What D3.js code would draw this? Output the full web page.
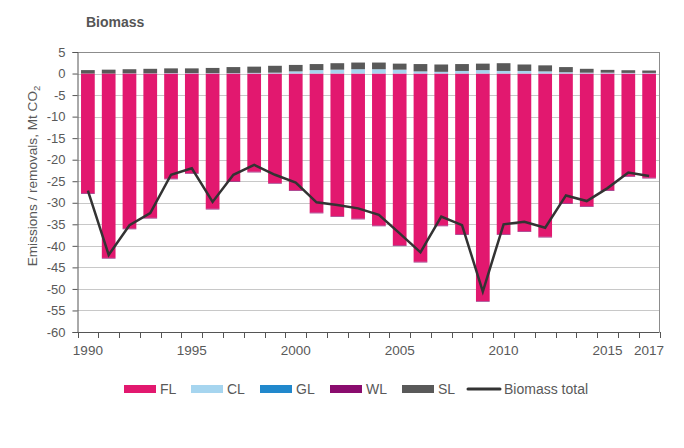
<!DOCTYPE html>
<html>
<head>
<meta charset="utf-8">
<script src="https://cdn.jsdelivr.net/npm/d3@7"></script>
<style>
  html, body { margin: 0; padding: 0; background: #fff; }
  svg { display: block; font-family: "Liberation Sans", Arial, sans-serif; }
</style>
</head>
<body>
<svg id="chart" width="684" height="448"></svg>
<script>
const years = [1990,1991,1992,1993,1994,1995,1996,1997,1998,1999,2000,2001,2002,2003,2004,2005,2006,2007,2008,2009,2010,2011,2012,2013,2014,2015,2016,2017];
const FL = [-27.8,-42.8,-36.0,-33.5,-24.4,-23.1,-31.4,-25.0,-22.8,-25.4,-27.1,-32.3,-33.1,-33.7,-35.3,-39.9,-43.7,-35.3,-37.3,-52.8,-37.3,-36.6,-37.9,-30.1,-30.8,-27.1,-23.8,-24.2];
const CL = [0.0,0.0,0.05,0.05,0.1,0.1,0.1,0.1,0.15,0.2,0.5,0.8,0.9,1.0,1.0,0.9,0.5,0.4,0.6,0.8,0.6,0.6,0.5,0.3,0.2,0.2,0.15,0.15];
const GL = [0,0,0,0,0,0,0,0,0,0,0,0,0,0,0,0,0,0,0,0,0,0,0,0,0,0,0,0];
const WL = [-0.15,-0.15,-0.15,-0.15,-0.15,-0.15,-0.15,-0.15,-0.15,-0.15,-0.15,-0.15,-0.15,-0.15,-0.15,-0.15,-0.15,-0.15,-0.15,-0.15,-0.15,-0.15,-0.15,-0.15,-0.15,-0.15,-0.15,-0.15];
const SL = [0.8,0.9,0.95,1.05,1.1,1.1,1.2,1.4,1.45,1.6,1.5,1.4,1.5,1.55,1.55,1.4,1.7,1.7,1.6,1.5,1.8,1.5,1.4,1.2,0.9,0.65,0.62,0.55];
const total = [-27.2,-42.1,-35.2,-32.4,-23.5,-22.0,-29.8,-23.5,-21.2,-23.5,-25.3,-29.9,-30.5,-31.3,-32.8,-37.1,-41.5,-33.2,-35.2,-50.6,-35.0,-34.4,-35.8,-28.3,-29.6,-26.6,-23.0,-23.8];
const yTicks = [5,0,-5,-10,-15,-20,-25,-30,-35,-40,-45,-50,-55,-60];
const xLabelYears = [1990,1995,2000,2005,2010,2015,2017];

const seriesNames = ["FL","CL","GL","WL","SL"];
const seriesData = {FL, CL, GL, WL, SL};
const colors = {FL:"#e2186f", CL:"#a6d5ef", GL:"#2188cc", WL:"#8a0c6e", SL:"#595959"};

const svg = d3.select("#chart");
const m = {left: 77.5, right: 659.5, top: 52, bottom: 332};

const x = d3.scaleBand().domain(years).range([m.left, m.right]).paddingInner(0.34).paddingOuter(0.17);
const y = d3.scaleLinear().domain([-60, 5]).range([m.bottom, m.top]);

// gridlines
svg.append("g").selectAll("line").data(yTicks.filter(d => d !== -60 && d !== 5)).join("line")
  .attr("x1", m.left).attr("x2", m.right)
  .attr("y1", d => Math.round(y(d)) + 0.5).attr("y2", d => Math.round(y(d)) + 0.5)
  .attr("stroke", "#c8c8c8").attr("stroke-width", 1);

// stacked bars
const rows = years.map((yr, i) => {
  const r = {year: yr};
  seriesNames.forEach(s => r[s] = seriesData[s][i]);
  return r;
});
const stack = d3.stack().keys(seriesNames).offset(d3.stackOffsetDiverging);
const stacked = stack(rows);

svg.append("g").selectAll("g").data(stacked).join("g")
  .attr("fill", d => colors[d.key])
  .selectAll("rect").data(d => d).join("rect")
  .attr("x", d => x(d.data.year))
  .attr("width", x.bandwidth())
  .attr("y", d => y(Math.max(d[0], d[1])))
  .attr("height", d => Math.abs(y(d[0]) - y(d[1])));

// border top & right
svg.append("line").attr("x1", m.left).attr("x2", m.right).attr("y1", m.top + 0.5).attr("y2", m.top + 0.5).attr("stroke", "#8c8c8c");
svg.append("line").attr("x1", m.right).attr("x2", m.right).attr("y1", m.top).attr("y2", m.bottom).attr("stroke", "#8c8c8c");

// total line
const line = d3.line().x((d, i) => x(years[i]) + x.bandwidth() / 2).y(d => y(d));
svg.append("path").datum(total).attr("d", line)
  .attr("fill", "none").attr("stroke", "#333333").attr("stroke-width", 2.5).attr("stroke-linejoin", "miter");

// y axis
const yAxis = d3.axisLeft(y).tickValues(yTicks).tickSize(5).tickPadding(7).tickFormat(d => d);
const gy = svg.append("g").attr("transform", `translate(${m.left},0)`).call(yAxis);
gy.select(".domain").attr("stroke", "#555");
gy.selectAll(".tick line").attr("stroke", "#555");
gy.selectAll(".tick text").attr("fill", "#595959").attr("font-size", 13).attr("font-family", "Liberation Sans, Arial, sans-serif");

// x axis with ticks at band boundaries
const step = x.step();
const boundaries = years.map((yr, i) => m.left + i * step).concat([m.right]);
const gx = svg.append("g");
gx.append("line").attr("x1", m.left).attr("x2", m.right).attr("y1", m.bottom + 0.5).attr("y2", m.bottom + 0.5).attr("stroke", "#555");
gx.selectAll("line.t").data(boundaries).join("line").attr("class", "t")
  .attr("x1", d => Math.round(d) + 0.5).attr("x2", d => Math.round(d) + 0.5)
  .attr("y1", m.bottom).attr("y2", m.bottom + 6).attr("stroke", "#555");
gx.selectAll("text").data(xLabelYears).join("text")
  .attr("x", d => x(d) + x.bandwidth() / 2)
  .attr("y", m.bottom + 23)
  .attr("text-anchor", "middle")
  .attr("fill", "#595959").attr("font-size", 13.5)
  .text(d => d);

// title
svg.append("text").attr("x", 86).attr("y", 27).attr("font-size", 14).attr("font-weight", "bold").attr("fill", "#555").text("Biomass");

// y label
const yl = svg.append("text").attr("transform", `translate(37,176) rotate(-90)`).attr("text-anchor", "middle")
  .attr("fill", "#595959").attr("font-size", 13.6);
yl.append("tspan").text("Emissions / removals, Mt CO");
yl.append("tspan").attr("font-size", 9.5).attr("dy", 3).text("2");

// legend
const legendItems = [
  {name: "FL", x: 124}, {name: "CL", x: 191}, {name: "GL", x: 260},
  {name: "WL", x: 330}, {name: "SL", x: 402}
];
const lg = svg.append("g");
legendItems.forEach(it => {
  lg.append("rect").attr("x", it.x).attr("y", 385).attr("width", 32).attr("height", 8).attr("fill", colors[it.name]);
  lg.append("text").attr("x", it.x + 36).attr("y", 394).attr("font-size", 14).attr("fill", "#595959").text(it.name);
});
lg.append("line").attr("x1", 468).attr("x2", 500).attr("y1", 389).attr("y2", 389).attr("stroke", "#333").attr("stroke-width", 3).attr("stroke-linecap", "round");
lg.append("text").attr("x", 504).attr("y", 394).attr("font-size", 14).attr("fill", "#595959").text("Biomass total");
</script>
</body>
</html>
